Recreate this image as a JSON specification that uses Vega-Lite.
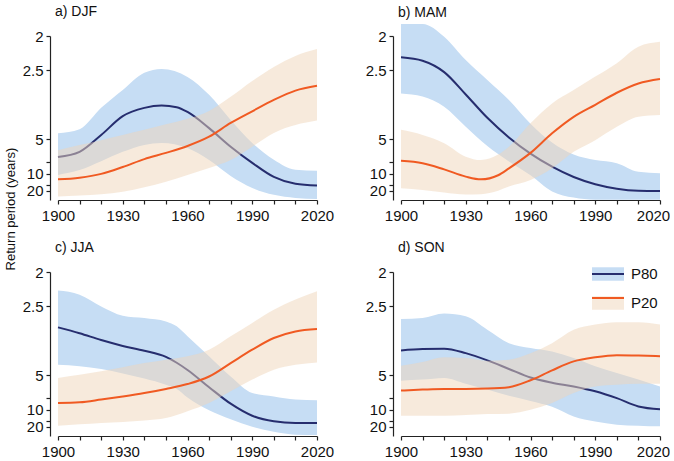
{
  "$schema": "https://vega.github.io/schema/vega-lite/v6.json",
  "padding": {"left": 4, "top": 4, "right": 0, "bottom": 0},
  "datasets": {
    "bands": [
      {"season":"DJF","band":"P80","year":1900,"lo":0.096,"hi":0.217},
      {"season":"DJF","band":"P80","year":1910,"lo":0.110,"hi":0.229},
      {"season":"DJF","band":"P80","year":1920,"lo":0.136,"hi":0.291},
      {"season":"DJF","band":"P80","year":1930,"lo":0.163,"hi":0.343},
      {"season":"DJF","band":"P80","year":1940,"lo":0.183,"hi":0.393},
      {"season":"DJF","band":"P80","year":1948,"lo":0.189,"hi":0.404},
      {"season":"DJF","band":"P80","year":1960,"lo":0.174,"hi":0.381},
      {"season":"DJF","band":"P80","year":1970,"lo":0.139,"hi":0.329},
      {"season":"DJF","band":"P80","year":1980,"lo":0.093,"hi":0.256},
      {"season":"DJF","band":"P80","year":1990,"lo":0.058,"hi":0.189},
      {"season":"DJF","band":"P80","year":2000,"lo":0.038,"hi":0.140},
      {"season":"DJF","band":"P80","year":2010,"lo":0.029,"hi":0.111},
      {"season":"DJF","band":"P80","year":2020,"lo":0.026,"hi":0.108},
      {"season":"DJF","band":"P20","year":1900,"lo":0.033,"hi":0.168},
      {"season":"DJF","band":"P20","year":1910,"lo":0.036,"hi":0.183},
      {"season":"DJF","band":"P20","year":1920,"lo":0.040,"hi":0.197},
      {"season":"DJF","band":"P20","year":1930,"lo":0.047,"hi":0.212},
      {"season":"DJF","band":"P20","year":1940,"lo":0.060,"hi":0.227},
      {"season":"DJF","band":"P20","year":1950,"lo":0.076,"hi":0.243},
      {"season":"DJF","band":"P20","year":1960,"lo":0.096,"hi":0.259},
      {"season":"DJF","band":"P20","year":1970,"lo":0.116,"hi":0.282},
      {"season":"DJF","band":"P20","year":1980,"lo":0.139,"hi":0.323},
      {"season":"DJF","band":"P20","year":1990,"lo":0.178,"hi":0.369},
      {"season":"DJF","band":"P20","year":2000,"lo":0.218,"hi":0.410},
      {"season":"DJF","band":"P20","year":2010,"lo":0.241,"hi":0.442},
      {"season":"DJF","band":"P20","year":2020,"lo":0.254,"hi":0.462},
      {"season":"MAM","band":"P80","year":1900,"lo":0.333,"hi":0.535},
      {"season":"MAM","band":"P80","year":1910,"lo":0.324,"hi":0.535},
      {"season":"MAM","band":"P80","year":1920,"lo":0.294,"hi":0.498},
      {"season":"MAM","band":"P80","year":1930,"lo":0.236,"hi":0.430},
      {"season":"MAM","band":"P80","year":1940,"lo":0.180,"hi":0.372},
      {"season":"MAM","band":"P80","year":1950,"lo":0.135,"hi":0.314},
      {"season":"MAM","band":"P80","year":1960,"lo":0.095,"hi":0.245},
      {"season":"MAM","band":"P80","year":1970,"lo":0.048,"hi":0.190},
      {"season":"MAM","band":"P80","year":1980,"lo":0.030,"hi":0.155},
      {"season":"MAM","band":"P80","year":1990,"lo":0.024,"hi":0.139},
      {"season":"MAM","band":"P80","year":2000,"lo":0.024,"hi":0.130},
      {"season":"MAM","band":"P80","year":2010,"lo":0.024,"hi":0.105},
      {"season":"MAM","band":"P80","year":2020,"lo":0.024,"hi":0.101},
      {"season":"MAM","band":"P20","year":1900,"lo":0.057,"hi":0.227},
      {"season":"MAM","band":"P20","year":1910,"lo":0.052,"hi":0.212},
      {"season":"MAM","band":"P20","year":1920,"lo":0.045,"hi":0.188},
      {"season":"MAM","band":"P20","year":1930,"lo":0.039,"hi":0.149},
      {"season":"MAM","band":"P20","year":1937,"lo":0.040,"hi":0.139},
      {"season":"MAM","band":"P20","year":1945,"lo":0.050,"hi":0.155},
      {"season":"MAM","band":"P20","year":1950,"lo":0.062,"hi":0.178},
      {"season":"MAM","band":"P20","year":1960,"lo":0.081,"hi":0.246},
      {"season":"MAM","band":"P20","year":1970,"lo":0.115,"hi":0.304},
      {"season":"MAM","band":"P20","year":1980,"lo":0.163,"hi":0.343},
      {"season":"MAM","band":"P20","year":1990,"lo":0.197,"hi":0.382},
      {"season":"MAM","band":"P20","year":2000,"lo":0.236,"hi":0.421},
      {"season":"MAM","band":"P20","year":2010,"lo":0.265,"hi":0.469},
      {"season":"MAM","band":"P20","year":2020,"lo":0.270,"hi":0.483},
      {"season":"JJA","band":"P80","year":1900,"lo":0.230,"hi":0.446},
      {"season":"JJA","band":"P80","year":1910,"lo":0.226,"hi":0.434},
      {"season":"JJA","band":"P80","year":1920,"lo":0.218,"hi":0.400},
      {"season":"JJA","band":"P80","year":1930,"lo":0.205,"hi":0.373},
      {"season":"JJA","band":"P80","year":1940,"lo":0.190,"hi":0.366},
      {"season":"JJA","band":"P80","year":1950,"lo":0.172,"hi":0.356},
      {"season":"JJA","band":"P80","year":1955,"lo":0.160,"hi":0.342},
      {"season":"JJA","band":"P80","year":1960,"lo":0.135,"hi":0.313},
      {"season":"JJA","band":"P80","year":1970,"lo":0.098,"hi":0.255},
      {"season":"JJA","band":"P80","year":1980,"lo":0.072,"hi":0.196},
      {"season":"JJA","band":"P80","year":1990,"lo":0.050,"hi":0.148},
      {"season":"JJA","band":"P80","year":2000,"lo":0.035,"hi":0.138},
      {"season":"JJA","band":"P80","year":2010,"lo":0.027,"hi":0.129},
      {"season":"JJA","band":"P80","year":2020,"lo":0.026,"hi":0.127},
      {"season":"JJA","band":"P20","year":1900,"lo":0.053,"hi":0.192},
      {"season":"JJA","band":"P20","year":1910,"lo":0.057,"hi":0.201},
      {"season":"JJA","band":"P20","year":1920,"lo":0.061,"hi":0.211},
      {"season":"JJA","band":"P20","year":1930,"lo":0.064,"hi":0.223},
      {"season":"JJA","band":"P20","year":1940,"lo":0.068,"hi":0.235},
      {"season":"JJA","band":"P20","year":1950,"lo":0.075,"hi":0.245},
      {"season":"JJA","band":"P20","year":1960,"lo":0.095,"hi":0.255},
      {"season":"JJA","band":"P20","year":1970,"lo":0.119,"hi":0.274},
      {"season":"JJA","band":"P20","year":1980,"lo":0.153,"hi":0.313},
      {"season":"JJA","band":"P20","year":1990,"lo":0.187,"hi":0.352},
      {"season":"JJA","band":"P20","year":2000,"lo":0.216,"hi":0.390},
      {"season":"JJA","band":"P20","year":2010,"lo":0.230,"hi":0.420},
      {"season":"JJA","band":"P20","year":2020,"lo":0.237,"hi":0.444},
      {"season":"SON","band":"P80","year":1900,"lo":0.184,"hi":0.363},
      {"season":"SON","band":"P80","year":1910,"lo":0.187,"hi":0.366},
      {"season":"SON","band":"P80","year":1920,"lo":0.192,"hi":0.379},
      {"season":"SON","band":"P80","year":1930,"lo":0.175,"hi":0.371},
      {"season":"SON","band":"P80","year":1940,"lo":0.158,"hi":0.332},
      {"season":"SON","band":"P80","year":1950,"lo":0.140,"hi":0.293},
      {"season":"SON","band":"P80","year":1960,"lo":0.125,"hi":0.279},
      {"season":"SON","band":"P80","year":1970,"lo":0.108,"hi":0.269},
      {"season":"SON","band":"P80","year":1980,"lo":0.080,"hi":0.250},
      {"season":"SON","band":"P80","year":1990,"lo":0.065,"hi":0.226},
      {"season":"SON","band":"P80","year":2000,"lo":0.056,"hi":0.206},
      {"season":"SON","band":"P80","year":2010,"lo":0.053,"hi":0.187},
      {"season":"SON","band":"P80","year":2020,"lo":0.051,"hi":0.167},
      {"season":"SON","band":"P20","year":1900,"lo":0.082,"hi":0.227},
      {"season":"SON","band":"P20","year":1910,"lo":0.082,"hi":0.238},
      {"season":"SON","band":"P20","year":1920,"lo":0.082,"hi":0.252},
      {"season":"SON","band":"P20","year":1930,"lo":0.084,"hi":0.250},
      {"season":"SON","band":"P20","year":1940,"lo":0.087,"hi":0.242},
      {"season":"SON","band":"P20","year":1950,"lo":0.088,"hi":0.245},
      {"season":"SON","band":"P20","year":1960,"lo":0.099,"hi":0.264},
      {"season":"SON","band":"P20","year":1970,"lo":0.119,"hi":0.293},
      {"season":"SON","band":"P20","year":1980,"lo":0.148,"hi":0.332},
      {"season":"SON","band":"P20","year":1990,"lo":0.167,"hi":0.347},
      {"season":"SON","band":"P20","year":2000,"lo":0.172,"hi":0.354},
      {"season":"SON","band":"P20","year":2010,"lo":0.175,"hi":0.354},
      {"season":"SON","band":"P20","year":2020,"lo":0.175,"hi":0.347}
    ],
    "lines": [
      {"season":"DJF","series":"P80","year":1900,"p":0.148},
      {"season":"DJF","series":"P80","year":1910,"p":0.163},
      {"season":"DJF","series":"P80","year":1920,"p":0.212},
      {"season":"DJF","series":"P80","year":1930,"p":0.267},
      {"season":"DJF","series":"P80","year":1940,"p":0.291},
      {"season":"DJF","series":"P80","year":1948,"p":0.298},
      {"season":"DJF","series":"P80","year":1955,"p":0.293},
      {"season":"DJF","series":"P80","year":1960,"p":0.279},
      {"season":"DJF","series":"P80","year":1970,"p":0.232},
      {"season":"DJF","series":"P80","year":1980,"p":0.178},
      {"season":"DJF","series":"P80","year":1990,"p":0.131},
      {"season":"DJF","series":"P80","year":2000,"p":0.090},
      {"season":"DJF","series":"P80","year":2010,"p":0.070},
      {"season":"DJF","series":"P80","year":2020,"p":0.065},
      {"season":"DJF","series":"P20","year":1900,"p":0.083},
      {"season":"DJF","series":"P20","year":1910,"p":0.088},
      {"season":"DJF","series":"P20","year":1920,"p":0.099},
      {"season":"DJF","series":"P20","year":1930,"p":0.119},
      {"season":"DJF","series":"P20","year":1940,"p":0.142},
      {"season":"DJF","series":"P20","year":1950,"p":0.160},
      {"season":"DJF","series":"P20","year":1960,"p":0.180},
      {"season":"DJF","series":"P20","year":1970,"p":0.207},
      {"season":"DJF","series":"P20","year":1980,"p":0.247},
      {"season":"DJF","series":"P20","year":1990,"p":0.281},
      {"season":"DJF","series":"P20","year":2000,"p":0.314},
      {"season":"DJF","series":"P20","year":2010,"p":0.341},
      {"season":"DJF","series":"P20","year":2020,"p":0.355},
      {"season":"MAM","series":"P80","year":1900,"p":0.438},
      {"season":"MAM","series":"P80","year":1910,"p":0.428},
      {"season":"MAM","series":"P80","year":1920,"p":0.395},
      {"season":"MAM","series":"P80","year":1930,"p":0.330},
      {"season":"MAM","series":"P80","year":1940,"p":0.262},
      {"season":"MAM","series":"P80","year":1950,"p":0.205},
      {"season":"MAM","series":"P80","year":1960,"p":0.158},
      {"season":"MAM","series":"P80","year":1970,"p":0.120},
      {"season":"MAM","series":"P80","year":1980,"p":0.090},
      {"season":"MAM","series":"P80","year":1990,"p":0.069},
      {"season":"MAM","series":"P80","year":2000,"p":0.056},
      {"season":"MAM","series":"P80","year":2010,"p":0.050},
      {"season":"MAM","series":"P80","year":2020,"p":0.049},
      {"season":"MAM","series":"P20","year":1900,"p":0.137},
      {"season":"MAM","series":"P20","year":1910,"p":0.130},
      {"season":"MAM","series":"P20","year":1920,"p":0.112},
      {"season":"MAM","series":"P20","year":1930,"p":0.091},
      {"season":"MAM","series":"P20","year":1937,"p":0.083},
      {"season":"MAM","series":"P20","year":1945,"p":0.095},
      {"season":"MAM","series":"P20","year":1950,"p":0.115},
      {"season":"MAM","series":"P20","year":1960,"p":0.160},
      {"season":"MAM","series":"P20","year":1970,"p":0.217},
      {"season":"MAM","series":"P20","year":1980,"p":0.265},
      {"season":"MAM","series":"P20","year":1990,"p":0.300},
      {"season":"MAM","series":"P20","year":2000,"p":0.335},
      {"season":"MAM","series":"P20","year":2010,"p":0.362},
      {"season":"MAM","series":"P20","year":2020,"p":0.375},
      {"season":"JJA","series":"P80","year":1900,"p":0.339},
      {"season":"JJA","series":"P80","year":1910,"p":0.322},
      {"season":"JJA","series":"P80","year":1920,"p":0.302},
      {"season":"JJA","series":"P80","year":1930,"p":0.285},
      {"season":"JJA","series":"P80","year":1940,"p":0.271},
      {"season":"JJA","series":"P80","year":1950,"p":0.253},
      {"season":"JJA","series":"P80","year":1955,"p":0.236},
      {"season":"JJA","series":"P80","year":1960,"p":0.215},
      {"season":"JJA","series":"P80","year":1970,"p":0.165},
      {"season":"JJA","series":"P80","year":1980,"p":0.117},
      {"season":"JJA","series":"P80","year":1990,"p":0.082},
      {"season":"JJA","series":"P80","year":2000,"p":0.066},
      {"season":"JJA","series":"P80","year":2010,"p":0.061},
      {"season":"JJA","series":"P80","year":2020,"p":0.061},
      {"season":"JJA","series":"P20","year":1900,"p":0.119},
      {"season":"JJA","series":"P20","year":1910,"p":0.121},
      {"season":"JJA","series":"P20","year":1920,"p":0.129},
      {"season":"JJA","series":"P20","year":1930,"p":0.138},
      {"season":"JJA","series":"P20","year":1940,"p":0.148},
      {"season":"JJA","series":"P20","year":1950,"p":0.160},
      {"season":"JJA","series":"P20","year":1960,"p":0.174},
      {"season":"JJA","series":"P20","year":1970,"p":0.196},
      {"season":"JJA","series":"P20","year":1980,"p":0.235},
      {"season":"JJA","series":"P20","year":1990,"p":0.274},
      {"season":"JJA","series":"P20","year":2000,"p":0.308},
      {"season":"JJA","series":"P20","year":2010,"p":0.327},
      {"season":"JJA","series":"P20","year":2020,"p":0.334},
      {"season":"SON","series":"P80","year":1900,"p":0.272},
      {"season":"SON","series":"P80","year":1910,"p":0.276},
      {"season":"SON","series":"P80","year":1920,"p":0.277},
      {"season":"SON","series":"P80","year":1930,"p":0.264},
      {"season":"SON","series":"P80","year":1940,"p":0.243},
      {"season":"SON","series":"P80","year":1950,"p":0.218},
      {"season":"SON","series":"P80","year":1960,"p":0.193},
      {"season":"SON","series":"P80","year":1970,"p":0.178},
      {"season":"SON","series":"P80","year":1980,"p":0.167},
      {"season":"SON","series":"P80","year":1990,"p":0.153},
      {"season":"SON","series":"P80","year":2000,"p":0.133},
      {"season":"SON","series":"P80","year":2010,"p":0.109},
      {"season":"SON","series":"P80","year":2020,"p":0.101},
      {"season":"SON","series":"P20","year":1900,"p":0.155},
      {"season":"SON","series":"P20","year":1910,"p":0.158},
      {"season":"SON","series":"P20","year":1920,"p":0.160},
      {"season":"SON","series":"P20","year":1930,"p":0.160},
      {"season":"SON","series":"P20","year":1940,"p":0.161},
      {"season":"SON","series":"P20","year":1950,"p":0.165},
      {"season":"SON","series":"P20","year":1960,"p":0.185},
      {"season":"SON","series":"P20","year":1970,"p":0.214},
      {"season":"SON","series":"P20","year":1980,"p":0.240},
      {"season":"SON","series":"P20","year":1990,"p":0.252},
      {"season":"SON","series":"P20","year":2000,"p":0.258},
      {"season":"SON","series":"P20","year":2010,"p":0.257},
      {"season":"SON","series":"P20","year":2020,"p":0.255}
    ]
  },
  "columns": 2,
  "spacing": {"row": 72, "column": 84},
  "bounds": "flush",
  "resolve": {
    "scale": {"fill": "independent", "stroke": "independent"},
    "legend": {"fill": "independent", "stroke": "independent"}
  },
  "concat": [
    {
      "title": {"text": "a) DJF", "offset": 10.5},
      "width": 259, "height": 164,
      "encoding": {"x": {"field":"year","type":"quantitative","scale":{"domain":[1900,2020],"nice":false,"zero":false},"axis":{"values":[1900,1910,1920,1930,1940,1950,1960,1970,1980,1990,2000,2010,2020],"labelExpr":"(datum.value - 1900) % 30 == 0 ? '' + datum.value : ''","title":null}}},
      "layer": [
        {"data":{"name":"bands"},"transform":[{"filter":"datum.season=='DJF' && datum.band=='P80'"}],"mark":{"type":"area","interpolate":"monotone"},
         "encoding":{"y":{"field":"lo","type":"quantitative","scale":{"domain":[0.023,0.5],"nice":false,"zero":false},"axis":{"values":[0.5,0.4,0.2,0.133333,0.1,0.0666667,0.05],"labelExpr":"datum.value > 0.45 ? '2' : datum.value > 0.3 ? '2.5' : datum.value > 0.15 ? '5' : datum.value > 0.12 ? '' : datum.value > 0.08 ? '10' : datum.value > 0.06 ? '' : '20'","title":"Return period (years)","titleX":-40,"titleY":172.5,"titleAngle":-90,"titleAlign":"center","titleBaseline":"middle","titleFontSize":13,"titleFontWeight":"normal","titleFont":"Liberation Sans","titleColor":"#111"}},"y2":{"field":"hi"},
          "fill":{"field":"band","type":"nominal","scale":{"range":["rgba(240,214,186,0.5)","#c6ddf4"]},"legend":null}}},
        {"data":{"name":"lines"},"transform":[{"filter":"datum.season=='DJF' && datum.series=='P80'"}],"mark":{"type":"line","interpolate":"monotone","strokeWidth":2},
         "encoding":{"y":{"field":"p","type":"quantitative","scale":{"domain":[0.023,0.5],"nice":false,"zero":false},"axis":{"values":[0.5,0.4,0.2,0.133333,0.1,0.0666667,0.05],"labelExpr":"datum.value > 0.45 ? '2' : datum.value > 0.3 ? '2.5' : datum.value > 0.15 ? '5' : datum.value > 0.12 ? '' : datum.value > 0.08 ? '10' : datum.value > 0.06 ? '' : '20'","title":"Return period (years)","titleX":-40,"titleY":172.5,"titleAngle":-90,"titleAlign":"center","titleBaseline":"middle","titleFontSize":13,"titleFontWeight":"normal","titleFont":"Liberation Sans","titleColor":"#111"}},
          "stroke":{"field":"series","type":"nominal","scale":{"range":["#f05a22","#262d6e"]},"legend":null}}},
        {"data":{"name":"bands"},"transform":[{"filter":"datum.season=='DJF' && datum.band=='P20'"}],"mark":{"type":"area","interpolate":"monotone"},
         "encoding":{"y":{"field":"lo","type":"quantitative","scale":{"domain":[0.023,0.5],"nice":false,"zero":false},"axis":{"values":[0.5,0.4,0.2,0.133333,0.1,0.0666667,0.05],"labelExpr":"datum.value > 0.45 ? '2' : datum.value > 0.3 ? '2.5' : datum.value > 0.15 ? '5' : datum.value > 0.12 ? '' : datum.value > 0.08 ? '10' : datum.value > 0.06 ? '' : '20'","title":"Return period (years)","titleX":-40,"titleY":172.5,"titleAngle":-90,"titleAlign":"center","titleBaseline":"middle","titleFontSize":13,"titleFontWeight":"normal","titleFont":"Liberation Sans","titleColor":"#111"}},"y2":{"field":"hi"},
          "fill":{"field":"band","type":"nominal","scale":{"range":["rgba(240,214,186,0.5)","#c6ddf4"]},"legend":null}}},
        {"data":{"name":"lines"},"transform":[{"filter":"datum.season=='DJF' && datum.series=='P20'"}],"mark":{"type":"line","interpolate":"monotone","strokeWidth":2},
         "encoding":{"y":{"field":"p","type":"quantitative","scale":{"domain":[0.023,0.5],"nice":false,"zero":false},"axis":{"values":[0.5,0.4,0.2,0.133333,0.1,0.0666667,0.05],"labelExpr":"datum.value > 0.45 ? '2' : datum.value > 0.3 ? '2.5' : datum.value > 0.15 ? '5' : datum.value > 0.12 ? '' : datum.value > 0.08 ? '10' : datum.value > 0.06 ? '' : '20'","title":"Return period (years)","titleX":-40,"titleY":172.5,"titleAngle":-90,"titleAlign":"center","titleBaseline":"middle","titleFontSize":13,"titleFontWeight":"normal","titleFont":"Liberation Sans","titleColor":"#111"}},
          "stroke":{"field":"series","type":"nominal","scale":{"range":["#f05a22","#262d6e"]},"legend":null}}}
      ]
    },
    {
      "title": {"text": "b) MAM", "offset": 4},
      "width": 259, "height": 164,
      "encoding": {"x": {"field":"year","type":"quantitative","scale":{"domain":[1900,2020],"nice":false,"zero":false},"axis":{"values":[1900,1910,1920,1930,1940,1950,1960,1970,1980,1990,2000,2010,2020],"labelExpr":"(datum.value - 1900) % 30 == 0 ? '' + datum.value : ''","labelOffset":{"expr":"datum.value == 2020 ? -7 : 0"},"title":null}}},
      "layer": [
        {"data":{"name":"bands"},"transform":[{"filter":"datum.season=='MAM' && datum.band=='P80'"}],"mark":{"type":"area","interpolate":"monotone"},
         "encoding":{"y":{"field":"lo","type":"quantitative","scale":{"domain":[0.023,0.5],"nice":false,"zero":false},"axis":{"values":[0.5,0.4,0.2,0.133333,0.1,0.0666667,0.05],"labelExpr":"datum.value > 0.45 ? '2' : datum.value > 0.3 ? '2.5' : datum.value > 0.15 ? '5' : datum.value > 0.12 ? '' : datum.value > 0.08 ? '10' : datum.value > 0.06 ? '' : '20'","title":null}},"y2":{"field":"hi"},
          "fill":{"field":"band","type":"nominal","scale":{"range":["rgba(240,214,186,0.5)","#c6ddf4"]},"legend":null}}},
        {"data":{"name":"lines"},"transform":[{"filter":"datum.season=='MAM' && datum.series=='P80'"}],"mark":{"type":"line","interpolate":"monotone","strokeWidth":2},
         "encoding":{"y":{"field":"p","type":"quantitative","scale":{"domain":[0.023,0.5],"nice":false,"zero":false},"axis":{"values":[0.5,0.4,0.2,0.133333,0.1,0.0666667,0.05],"labelExpr":"datum.value > 0.45 ? '2' : datum.value > 0.3 ? '2.5' : datum.value > 0.15 ? '5' : datum.value > 0.12 ? '' : datum.value > 0.08 ? '10' : datum.value > 0.06 ? '' : '20'","title":null}},
          "stroke":{"field":"series","type":"nominal","scale":{"range":["#f05a22","#262d6e"]},"legend":null}}},
        {"data":{"name":"bands"},"transform":[{"filter":"datum.season=='MAM' && datum.band=='P20'"}],"mark":{"type":"area","interpolate":"monotone"},
         "encoding":{"y":{"field":"lo","type":"quantitative","scale":{"domain":[0.023,0.5],"nice":false,"zero":false},"axis":{"values":[0.5,0.4,0.2,0.133333,0.1,0.0666667,0.05],"labelExpr":"datum.value > 0.45 ? '2' : datum.value > 0.3 ? '2.5' : datum.value > 0.15 ? '5' : datum.value > 0.12 ? '' : datum.value > 0.08 ? '10' : datum.value > 0.06 ? '' : '20'","title":null}},"y2":{"field":"hi"},
          "fill":{"field":"band","type":"nominal","scale":{"range":["rgba(240,214,186,0.5)","#c6ddf4"]},"legend":null}}},
        {"data":{"name":"lines"},"transform":[{"filter":"datum.season=='MAM' && datum.series=='P20'"}],"mark":{"type":"line","interpolate":"monotone","strokeWidth":2},
         "encoding":{"y":{"field":"p","type":"quantitative","scale":{"domain":[0.023,0.5],"nice":false,"zero":false},"axis":{"values":[0.5,0.4,0.2,0.133333,0.1,0.0666667,0.05],"labelExpr":"datum.value > 0.45 ? '2' : datum.value > 0.3 ? '2.5' : datum.value > 0.15 ? '5' : datum.value > 0.12 ? '' : datum.value > 0.08 ? '10' : datum.value > 0.06 ? '' : '20'","title":null}},
          "stroke":{"field":"series","type":"nominal","scale":{"range":["#f05a22","#262d6e"]},"legend":null}}}
      ]
    },
    {
      "title": {"text": "c) JJA", "offset": 10.5},
      "width": 259, "height": 164,
      "encoding": {"x": {"field":"year","type":"quantitative","scale":{"domain":[1900,2020],"nice":false,"zero":false},"axis":{"values":[1900,1910,1920,1930,1940,1950,1960,1970,1980,1990,2000,2010,2020],"labelExpr":"(datum.value - 1900) % 30 == 0 ? '' + datum.value : ''","title":null}}},
      "layer": [
        {"data":{"name":"bands"},"transform":[{"filter":"datum.season=='JJA' && datum.band=='P80'"}],"mark":{"type":"area","interpolate":"monotone"},
         "encoding":{"y":{"field":"lo","type":"quantitative","scale":{"domain":[0.023,0.5],"nice":false,"zero":false},"axis":{"values":[0.5,0.4,0.2,0.133333,0.1,0.0666667,0.05],"labelExpr":"datum.value > 0.45 ? '2' : datum.value > 0.3 ? '2.5' : datum.value > 0.15 ? '5' : datum.value > 0.12 ? '' : datum.value > 0.08 ? '10' : datum.value > 0.06 ? '' : '20'","title":null}},"y2":{"field":"hi"},
          "fill":{"field":"band","type":"nominal","scale":{"range":["rgba(240,214,186,0.5)","#c6ddf4"]},"legend":null}}},
        {"data":{"name":"lines"},"transform":[{"filter":"datum.season=='JJA' && datum.series=='P80'"}],"mark":{"type":"line","interpolate":"monotone","strokeWidth":2},
         "encoding":{"y":{"field":"p","type":"quantitative","scale":{"domain":[0.023,0.5],"nice":false,"zero":false},"axis":{"values":[0.5,0.4,0.2,0.133333,0.1,0.0666667,0.05],"labelExpr":"datum.value > 0.45 ? '2' : datum.value > 0.3 ? '2.5' : datum.value > 0.15 ? '5' : datum.value > 0.12 ? '' : datum.value > 0.08 ? '10' : datum.value > 0.06 ? '' : '20'","title":null}},
          "stroke":{"field":"series","type":"nominal","scale":{"range":["#f05a22","#262d6e"]},"legend":null}}},
        {"data":{"name":"bands"},"transform":[{"filter":"datum.season=='JJA' && datum.band=='P20'"}],"mark":{"type":"area","interpolate":"monotone"},
         "encoding":{"y":{"field":"lo","type":"quantitative","scale":{"domain":[0.023,0.5],"nice":false,"zero":false},"axis":{"values":[0.5,0.4,0.2,0.133333,0.1,0.0666667,0.05],"labelExpr":"datum.value > 0.45 ? '2' : datum.value > 0.3 ? '2.5' : datum.value > 0.15 ? '5' : datum.value > 0.12 ? '' : datum.value > 0.08 ? '10' : datum.value > 0.06 ? '' : '20'","title":null}},"y2":{"field":"hi"},
          "fill":{"field":"band","type":"nominal","scale":{"range":["rgba(240,214,186,0.5)","#c6ddf4"]},"legend":null}}},
        {"data":{"name":"lines"},"transform":[{"filter":"datum.season=='JJA' && datum.series=='P20'"}],"mark":{"type":"line","interpolate":"monotone","strokeWidth":2},
         "encoding":{"y":{"field":"p","type":"quantitative","scale":{"domain":[0.023,0.5],"nice":false,"zero":false},"axis":{"values":[0.5,0.4,0.2,0.133333,0.1,0.0666667,0.05],"labelExpr":"datum.value > 0.45 ? '2' : datum.value > 0.3 ? '2.5' : datum.value > 0.15 ? '5' : datum.value > 0.12 ? '' : datum.value > 0.08 ? '10' : datum.value > 0.06 ? '' : '20'","title":null}},
          "stroke":{"field":"series","type":"nominal","scale":{"range":["#f05a22","#262d6e"]},"legend":null}}}
      ]
    },
    {
      "title": {"text": "d) SON", "offset": 10.5},
      "width": 259, "height": 164,
      "encoding": {"x": {"field":"year","type":"quantitative","scale":{"domain":[1900,2020],"nice":false,"zero":false},"axis":{"values":[1900,1910,1920,1930,1940,1950,1960,1970,1980,1990,2000,2010,2020],"labelExpr":"(datum.value - 1900) % 30 == 0 ? '' + datum.value : ''","labelOffset":{"expr":"datum.value == 2020 ? -7 : 0"},"title":null}}},
      "layer": [
        {"data":{"name":"bands"},"transform":[{"filter":"datum.season=='SON' && datum.band=='P80'"}],"mark":{"type":"area","interpolate":"monotone"},
         "encoding":{"y":{"field":"lo","type":"quantitative","scale":{"domain":[0.023,0.5],"nice":false,"zero":false},"axis":{"values":[0.5,0.4,0.2,0.133333,0.1,0.0666667,0.05],"labelExpr":"datum.value > 0.45 ? '2' : datum.value > 0.3 ? '2.5' : datum.value > 0.15 ? '5' : datum.value > 0.12 ? '' : datum.value > 0.08 ? '10' : datum.value > 0.06 ? '' : '20'","title":null}},"y2":{"field":"hi"},
          "fill":{"field":"band","type":"nominal","scale":{"range":["rgba(240,214,186,0.5)","#c6ddf4"]},"legend":{"title":null,"orient":"none","legendX":198,"legendY":-7,"values":["P80","P20"],"symbolType":"M-2,-0.84H2V0.84H-2Z","symbolStrokeColor":"transparent"}}}},
        {"data":{"name":"lines"},"transform":[{"filter":"datum.season=='SON' && datum.series=='P80'"}],"mark":{"type":"line","interpolate":"monotone","strokeWidth":2},
         "encoding":{"y":{"field":"p","type":"quantitative","scale":{"domain":[0.023,0.5],"nice":false,"zero":false},"axis":{"values":[0.5,0.4,0.2,0.133333,0.1,0.0666667,0.05],"labelExpr":"datum.value > 0.45 ? '2' : datum.value > 0.3 ? '2.5' : datum.value > 0.15 ? '5' : datum.value > 0.12 ? '' : datum.value > 0.08 ? '10' : datum.value > 0.06 ? '' : '20'","title":null}},
          "stroke":{"field":"series","type":"nominal","scale":{"range":["#f05a22","#262d6e"]},"legend":{"title":null,"orient":"none","legendX":198,"legendY":-7,"values":["P80","P20"],"symbolType":"M-2,0H2","symbolFillColor":"transparent","labelExpr":"''"}}}},
        {"data":{"name":"bands"},"transform":[{"filter":"datum.season=='SON' && datum.band=='P20'"}],"mark":{"type":"area","interpolate":"monotone"},
         "encoding":{"y":{"field":"lo","type":"quantitative","scale":{"domain":[0.023,0.5],"nice":false,"zero":false},"axis":{"values":[0.5,0.4,0.2,0.133333,0.1,0.0666667,0.05],"labelExpr":"datum.value > 0.45 ? '2' : datum.value > 0.3 ? '2.5' : datum.value > 0.15 ? '5' : datum.value > 0.12 ? '' : datum.value > 0.08 ? '10' : datum.value > 0.06 ? '' : '20'","title":null}},"y2":{"field":"hi"},
          "fill":{"field":"band","type":"nominal","scale":{"range":["rgba(240,214,186,0.5)","#c6ddf4"]},"legend":{"title":null,"orient":"none","legendX":198,"legendY":-7,"values":["P80","P20"],"symbolType":"M-2,-0.84H2V0.84H-2Z","symbolStrokeColor":"transparent"}}}},
        {"data":{"name":"lines"},"transform":[{"filter":"datum.season=='SON' && datum.series=='P20'"}],"mark":{"type":"line","interpolate":"monotone","strokeWidth":2},
         "encoding":{"y":{"field":"p","type":"quantitative","scale":{"domain":[0.023,0.5],"nice":false,"zero":false},"axis":{"values":[0.5,0.4,0.2,0.133333,0.1,0.0666667,0.05],"labelExpr":"datum.value > 0.45 ? '2' : datum.value > 0.3 ? '2.5' : datum.value > 0.15 ? '5' : datum.value > 0.12 ? '' : datum.value > 0.08 ? '10' : datum.value > 0.06 ? '' : '20'","title":null}},
          "stroke":{"field":"series","type":"nominal","scale":{"range":["#f05a22","#262d6e"]},"legend":{"title":null,"orient":"none","legendX":198,"legendY":-7,"values":["P80","P20"],"symbolType":"M-2,0H2","symbolFillColor":"transparent","labelExpr":"''"}}}}
      ]
    }
  ],
  "config": {
    "view": {"stroke": null},
    "font": "Liberation Sans",
    "axis": {"grid": false, "domainColor": "#222", "tickColor": "#222", "labelColor": "#111", "labelFont": "Liberation Sans", "labelFontSize": 15, "tickSize": 4, "domainWidth": 1.2, "tickWidth": 1.2, "labelFlush": false, "labelOverlap": false, "labelBound": false},
    "axisY": {"offset": 8, "labelPadding": 3},
    "axisX": {"labelPadding": 4},
    "title": {"anchor": "start", "frame": "group", "fontSize": 14, "fontWeight": "normal", "font": "Liberation Sans", "color": "#111", "baseline": "alphabetic", "dx": -3},
    "legend": {"padding": 0, "labelFont": "Liberation Sans", "labelFontSize": 15, "labelColor": "#111", "labelOffset": 14, "rowPadding": 7, "symbolSize": 256, "symbolStrokeWidth": 2, "symbolOpacity": 1}
  }
}
